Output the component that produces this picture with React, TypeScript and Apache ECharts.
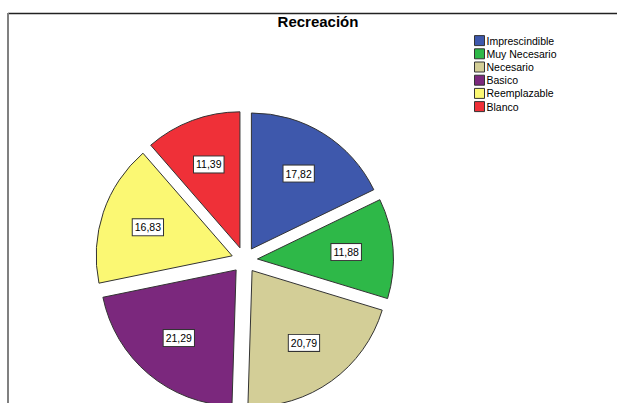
import React, { useEffect, useRef } from "react";
import * as echarts from "echarts";

const categories = ["Imprescindible", "Muy Necesario", "Necesario", "Basico", "Reemplazable", "Blanco"];
const percents = [17.82, 11.88, 20.79, 21.29, 16.83, 11.39];
const colors = ["#3e58ac", "#2eb848", "#d3ce97", "#7b287d", "#fbf873", "#ef3038"];
const titleText = "Recreación";

export default function App() {
  const ref = useRef<HTMLDivElement>(null);
  useEffect(() => {
    if (!ref.current) return;
    const chart = echarts.init(ref.current, null, { renderer: "svg" });
    const pieData = categories.map((name, i) => ({
      name,
      value: percents[i],
      selected: true,
      itemStyle: { color: colors[i] },
    }));
    const labelData = categories.map((name, i) => ({
      name,
      value: percents[i],
      selected: true,
    }));
    const center = [244.5, 260];
    const offset = 13;
    chart.setOption({
      animation: false,
      backgroundColor: "#ffffff",
      title: {
        text: titleText,
        left: 318,
        textAlign: "center",
        top: 14,
        padding: 0,
        textStyle: { fontFamily: "Arial, 'Liberation Sans'", fontSize: 15, fontWeight: "bold", color: "#000" },
      },
      legend: {
        orient: "vertical",
        left: 474,
        top: 34,
        itemWidth: 10,
        itemHeight: 10,
        itemGap: 0,
        padding: 0,
        icon: "rect",
        selectedMode: false,
        data: categories,
        itemStyle: { borderColor: "#333", borderWidth: 1 },
        textStyle: {
          fontFamily: "Arial, 'Liberation Sans'",
          fontSize: 10.5,
          color: "#000",
          lineHeight: 13.2,
          padding: [0, 0, 0, -3],
        },
      },
      graphic: [
        { type: "line", shape: { x1: 8, y1: 13.5, x2: 617, y2: 13.5 }, style: { stroke: "#222", lineWidth: 1.5 }, silent: true },
        { type: "line", shape: { x1: 8, y1: 13, x2: 8, y2: 403 }, style: { stroke: "#808080", lineWidth: 2 }, silent: true },
      ],
      series: [
        {
          type: "pie",
          center,
          radius: [0, 136],
          startAngle: 90,
          clockwise: true,
          selectedMode: "multiple",
          selectedOffset: offset,
          avoidLabelOverlap: false,
          silent: true,
          data: pieData,
          itemStyle: { borderColor: "#333", borderWidth: 1 },
          select: { itemStyle: { borderColor: "#333", borderWidth: 1 } },
          emphasis: { disabled: true, scale: false },
          label: { show: false },
          labelLine: { show: false },
        },
        {
          type: "pie",
          center,
          radius: [0, 172],
          startAngle: 90,
          clockwise: true,
          selectedMode: "multiple",
          selectedOffset: offset,
          avoidLabelOverlap: false,
          silent: true,
          legendHoverLink: false,
          data: labelData,
          itemStyle: { color: "rgba(0,0,0,0)", borderWidth: 0 },
          select: { itemStyle: { color: "rgba(0,0,0,0)", borderWidth: 0 } },
          emphasis: { disabled: true, scale: false },
          label: {
            show: true,
            position: "inside",
            formatter: (p: any) => p.value.toFixed(2).replace(".", ","),
            fontFamily: "Arial, 'Liberation Sans'",
            fontSize: 10.5,
            color: "#000",
            backgroundColor: "#fff",
            borderColor: "#333",
            borderWidth: 1,
            padding: [2, 2, 1, 2],
            lineHeight: 13,
          },
          labelLine: { show: false },
        },
      ],
    });
    return () => chart.dispose();
  }, []);
  return (
    <div
      ref={ref}
      style={{ position: "absolute", left: 0, top: 0, width: 617, height: 403 }}
    />
  );
}
